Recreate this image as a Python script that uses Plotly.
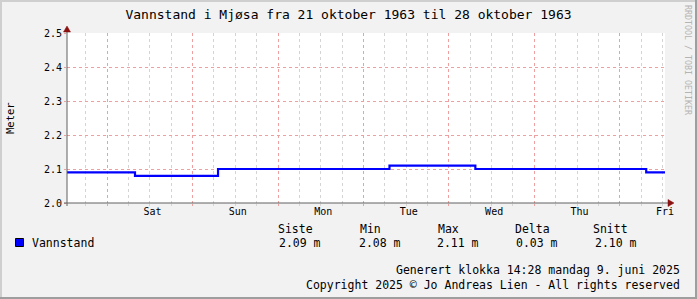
import plotly.graph_objects as go

# ---- data ----
step_days = [0.0, 0.796, 1.768, 3.775, 4.78, 6.78, 7.0]
levels = [2.09, 2.08, 2.10, 2.11, 2.10, 2.09, 2.09]
day_ticks = [1, 2, 3, 4, 5, 6, 7]
day_labels = ["Sat", "Sun", "Mon", "Tue", "Wed", "Thu", "Fri"]
major_grid_days = [0.47, 1.47, 2.47, 3.47, 4.47, 5.47, 6.47]
y_ticks = [2.0, 2.1, 2.2, 2.3, 2.4, 2.5]
stat_names = ["Siste", "Min", "Max", "Delta", "Snitt"]
stat_values = [2.09, 2.08, 2.11, 0.03, 2.10]
series_name = "Vannstand"

W, H = 697, 299
L, R, T, B = 67, 665, 33, 203
FONT = "DejaVu Sans Mono"


def X(px):
    return (px - L) / (R - L)


def Y(py):
    return (B - py) / (B - T)


GRID_MAJ = "rgb(238,160,160)"
GRID_MIN = "rgb(212,212,212)"

fig = go.Figure()
fig.add_trace(go.Scatter(
    x=step_days, y=levels, mode="lines", line_shape="hv",
    line=dict(color="#0000FF", width=2.2), showlegend=False, hoverinfo="skip",
))
# empty trace on the grid axes (x2, y2) so they are drawn
fig.add_trace(go.Scatter(x=[], y=[], xaxis="x2", yaxis="y2", showlegend=False))

fig.update_layout(
    width=W, height=H, autosize=False,
    margin=dict(l=L, r=W - R, t=T, b=H - B, pad=0),
    paper_bgcolor="#F2F2F2", plot_bgcolor="#FFFFFF",
    font=dict(family=FONT, color="#000000", size=10),
    title=dict(text="Vannstand i Mjøsa fra 21 oktober 1963 til 28 oktober 1963",
               x=0.5, xref="container", xanchor="center",
               y=1 - 14 / H, yref="container", yanchor="middle",
               font=dict(family=FONT, size=13, color="#000000")),
    xaxis=dict(range=[0, 7], tickmode="array", tickvals=day_ticks, ticktext=day_labels,
               showgrid=False, zeroline=False, showline=False, ticks="",
               tickfont=dict(family=FONT, size=10), ticklabelstandoff=1),
    yaxis=dict(range=[2.0, 2.5], tickmode="array", tickvals=y_ticks, tickformat=".1f",
               showgrid=False, zeroline=False, showline=False,
               ticks="outside", ticklen=2, tickcolor=GRID_MAJ,
               tickfont=dict(family=FONT, size=10)),
    xaxis2=dict(range=[0, 7], overlaying="x", anchor="y2", side="bottom",
                tickmode="array", tickvals=major_grid_days, showticklabels=False,
                showgrid=True, gridcolor=GRID_MAJ, griddash="dot", gridwidth=1,
                ticks="outside", ticklen=2, tickcolor=GRID_MAJ, zeroline=False, showline=False,
                minor=dict(tick0=-0.03, dtick=0.25, showgrid=True, gridcolor=GRID_MIN,
                           griddash="dot", ticks="outside", ticklen=2, tickcolor=GRID_MIN)),
    yaxis2=dict(range=[2.0, 2.5], overlaying="y", anchor="x2", side="left",
                tickmode="array", tickvals=y_ticks, showticklabels=False,
                showgrid=True, gridcolor=GRID_MAJ, griddash="dot", gridwidth=1,
                ticks="", zeroline=False, showline=False),
)

shapes = []
# frame
shapes += [
    dict(type="rect", xref="paper", yref="paper", x0=X(0), x1=X(W), y0=Y(0), y1=Y(2),
         fillcolor="#CFCFCF", line_width=0, layer="below"),
    dict(type="rect", xref="paper", yref="paper", x0=X(0), x1=X(2), y0=Y(0), y1=Y(H),
         fillcolor="#CFCFCF", line_width=0, layer="below"),
    dict(type="rect", xref="paper", yref="paper", x0=X(0), x1=X(W), y0=Y(H - 2), y1=Y(H),
         fillcolor="#9E9E9E", line_width=0, layer="below"),
    dict(type="rect", xref="paper", yref="paper", x0=X(W - 2), x1=X(W), y0=Y(0), y1=Y(H),
         fillcolor="#9E9E9E", line_width=0, layer="below"),
]
AX = "#606060"
ARW = "#8B1010"
# axes
shapes += [
    dict(type="line", xref="paper", yref="paper", x0=X(64), x1=X(669), y0=Y(203), y1=Y(203),
         line=dict(color=AX, width=1), layer="above"),
    dict(type="line", xref="paper", yref="paper", x0=X(67), x1=X(67), y0=Y(206), y1=Y(30),
         line=dict(color=AX, width=1), layer="above"),
    dict(type="path", xref="paper", yref="paper",
         path=f"M {X(668)} {Y(199.5)} L {X(674)} {Y(203)} L {X(668)} {Y(206.5)} Z",
         fillcolor=ARW, line=dict(color=ARW, width=0.5), layer="above"),
    dict(type="path", xref="paper", yref="paper",
         path=f"M {X(63.5)} {Y(32)} L {X(67)} {Y(26)} L {X(70.5)} {Y(32)} Z",
         fillcolor=ARW, line=dict(color=ARW, width=0.5), layer="above"),
]
# legend swatch
shapes.append(dict(type="rect", xref="paper", yref="paper", x0=X(15.5), x1=X(23.5),
                   y0=Y(238.5), y1=Y(246.5), fillcolor="#0000FF",
                   line=dict(color="#000000", width=1)))
fig.update_layout(shapes=shapes)

ann = []


def txt(s, px, py, anchor="left", size=11.5, color="#000000", angle=0):
    ann.append(dict(text=s, xref="paper", yref="paper", x=X(px), y=Y(py),
                    xanchor=anchor, yanchor="middle", showarrow=False, textangle=angle,
                    font=dict(family=FONT, size=size, color=color)))


txt("Meter", 10, 118, anchor="center", size=10.5, angle=-90)
txt("RRDTOOL / TOBI OETIKER", 688, 60, anchor="center", size=8.3, color="#B4B4B4", angle=90)
txt(series_name, 30, 243)
head_x = [276, 358, 436, 513, 591]
val_x = [277, 357, 435, 514, 593]
for name, v, hx, vx in zip(stat_names, stat_values, head_x, val_x):
    txt(name, hx, 229)
    txt(f"{v:.2f} m", vx, 243)
txt("Generert klokka 14:28 mandag 9. juni 2025", 682, 270, anchor="right")
txt("Copyright 2025 © Jo Andreas Lien - All rights reserved", 682, 285, anchor="right")
fig.update_layout(annotations=ann)

fig.write_html(
    "out.html",
    config={"displayModeBar": False},
    post_script="document.body.style.margin='0';document.body.style.padding='0';"
                "document.body.style.overflow='hidden';",
)
